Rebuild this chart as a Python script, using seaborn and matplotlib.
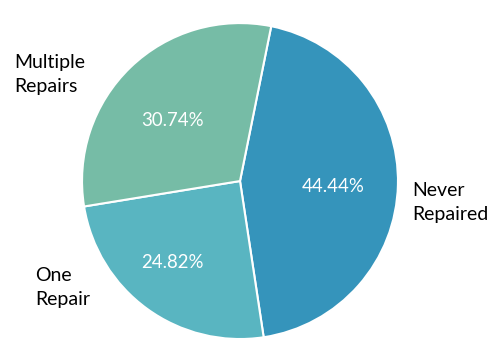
import matplotlib
matplotlib.use("Agg")
import matplotlib.pyplot as plt
import seaborn as sns

categories = ["Never Repaired", "One Repair", "Multiple Repairs"]
values = [44.44, 24.82, 30.74]
colors = ["#3594BB", "#59B5C1", "#76BCA6"]

sns.set_theme(style="white")
plt.rcParams["font.family"] = ["Lato", "DejaVu Sans"]

fig = plt.figure(figsize=(5, 3.55), dpi=100)
ax = fig.add_axes([0.164, 0.045, 0.632, 0.890])
wedges, _ = ax.pie(values, colors=colors, startangle=78.6, counterclock=False,
                   radius=1, wedgeprops=dict(edgecolor="white", linewidth=1.5))
ax.set_xlim(-1, 1)
ax.set_ylim(-1, 1)
ax.set_aspect("equal")
ax.axis("off")

pct_pos = [(0.588, -0.035), (-0.43, -0.513), (-0.43, 0.385)]
lab_pos = [(1.089, -0.133), (-1.43, -0.671), (-1.43, 0.677)]
lab_pos[1] = (-1.297, -0.671)
lab_text = ["Never\nRepaired", "One\nRepair", "Multiple\nRepairs"]
for v, (px, py), t, (lx, ly) in zip(values, pct_pos, lab_text, lab_pos):
    ax.text(px, py, f"{v:.2f}%", color="white", fontsize=13.4, ha="center", va="center")
    ax.text(lx, ly, t, color="black", fontsize=14, ha="left", va="center",
            linespacing=1.5)

fig.savefig("out.png", dpi=100)
